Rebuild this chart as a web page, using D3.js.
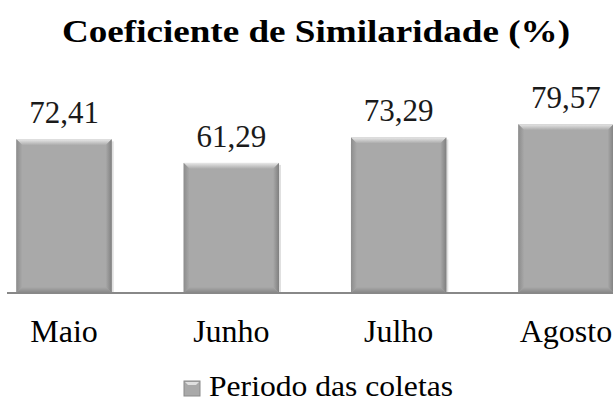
<!DOCTYPE html>
<html>
<head>
<meta charset="utf-8" />
<title>Coeficiente de Similaridade</title>
<style>
  body { margin: 0; padding: 0; background: #fff; }
</style>
</head>
<body>
<div id="chart"></div>
<script src="https://d3js.org/d3.v7.min.js"></script>
<script>
const months = ['Maio', 'Junho', 'Julho', 'Agosto'];
const values = [72.41, 61.29, 73.29, 79.57];
const valueLabels = ['72,41', '61,29', '73,29', '79,57'];
const seriesName = 'Periodo das coletas';

const width = 613, height = 403;
const baseY = 293;
const FONT = '"Liberation Serif", "Times New Roman", serif';

const svg = d3.select('#chart').append('svg')
    .attr('width', width)
    .attr('height', height)
    .style('display', 'block');

const defs = svg.append('defs');
function grad(id, x2, y2, c1, c2) {
  const g = defs.append('linearGradient').attr('id', id)
      .attr('x1', 0).attr('y1', 0).attr('x2', x2).attr('y2', y2);
  g.append('stop').attr('offset', '0%').attr('stop-color', c1);
  g.append('stop').attr('offset', '100%').attr('stop-color', c2);
}
grad('bevelTop', 0, 1, '#e8e8e8', '#a9a9a9');
grad('bevelBot', 0, 1, '#a9a9a9', '#858585');
grad('bevelLeft', 1, 0, '#8c8c8c', '#a9a9a9');
grad('bevelRight', 1, 0, '#a9a9a9', '#7f7f7f');

const x = d3.scaleBand()
    .domain(months)
    .range([12, 618])
    .paddingInner(0.43)
    .paddingOuter(0.026);

const y = d3.scaleLinear()
    .domain([0, 90])
    .range([baseY, 102]);

// title
svg.append('text')
    .attr('x', 316)
    .attr('y', 42)
    .attr('text-anchor', 'middle')
    .attr('textLength', 508)
    .attr('lengthAdjust', 'spacingAndGlyphs')
    .style('font-family', FONT)
    .style('font-size', '31px')
    .style('font-weight', 'bold')
    .attr('fill', '#000')
    .text('Coeficiente de Similaridade (%)');

const data = months.map((m, i) => ({ m, v: values[i], label: valueLabels[i] }));
const e = 6;
const bw = x.bandwidth();

const bar = svg.append('g').selectAll('g')
    .data(data)
    .enter().append('g')
    .attr('transform', d => `translate(${x(d.m)},${y(d.v)})`);

// shadow
bar.append('rect')
    .attr('x', 2).attr('y', 2)
    .attr('width', bw)
    .attr('height', d => baseY - y(d.v) - 2)
    .attr('fill', '#000').attr('opacity', 0.12);

bar.append('rect')
    .attr('width', bw)
    .attr('height', d => baseY - y(d.v))
    .attr('fill', '#a9a9a9');

bar.append('path')
    .attr('d', `M0,0 L${bw},0 L${bw - e},${e} L${e},${e} Z`)
    .attr('fill', 'url(#bevelTop)');
bar.append('path')
    .attr('d', d => { const h = baseY - y(d.v); return `M0,0 L${e},${e} L${e},${h - e} L0,${h} Z`; })
    .attr('fill', 'url(#bevelLeft)');
bar.append('path')
    .attr('d', d => { const h = baseY - y(d.v); return `M${bw},0 L${bw - e},${e} L${bw - e},${h - e} L${bw},${h} Z`; })
    .attr('fill', 'url(#bevelRight)');
bar.append('path')
    .attr('d', d => { const h = baseY - y(d.v); return `M0,${h} L${e},${h - e} L${bw - e},${h - e} L${bw},${h} Z`; })
    .attr('fill', 'url(#bevelBot)');

// value labels
svg.append('g').selectAll('text')
    .data(data)
    .enter().append('text')
    .attr('x', d => x(d.m) + bw / 2)
    .attr('y', d => y(d.v) - 16)
    .attr('text-anchor', 'middle')
    .style('font-family', FONT)
    .style('font-size', '31px')
    .attr('fill', '#1a1a1a')
    .text(d => d.label);

// baseline axis
const axis = svg.append('g')
    .attr('transform', `translate(0,${baseY})`)
    .call(d3.axisBottom(x).tickSize(0).tickPadding(0));
axis.attr('font-family', null);
axis.select('.domain').attr('d', 'M7,0H613').attr('stroke', '#888').attr('stroke-width', 2);
axis.selectAll('.tick text')
    .attr('y', 49)
    .attr('dy', 0)
    .style('font-family', FONT)
    .style('font-size', '32px')
    .attr('fill', '#000');

// legend
const lg = svg.append('g').attr('transform', 'translate(184,381)');
lg.append('rect').attr('width', 16).attr('height', 15).attr('fill', '#a9a9a9')
    .attr('stroke', '#8a8a8a');
lg.append('path').attr('d', 'M1,1 L15,1 L12,4 L4,4 Z').attr('fill', '#e0e0e0');
lg.append('text')
    .attr('x', 25)
    .attr('y', 15)
    .attr('textLength', 244)
    .attr('lengthAdjust', 'spacingAndGlyphs')
    .style('font-family', FONT)
    .style('font-size', '30px')
    .attr('fill', '#000')
    .text(seriesName);
</script>
</body>
</html>
